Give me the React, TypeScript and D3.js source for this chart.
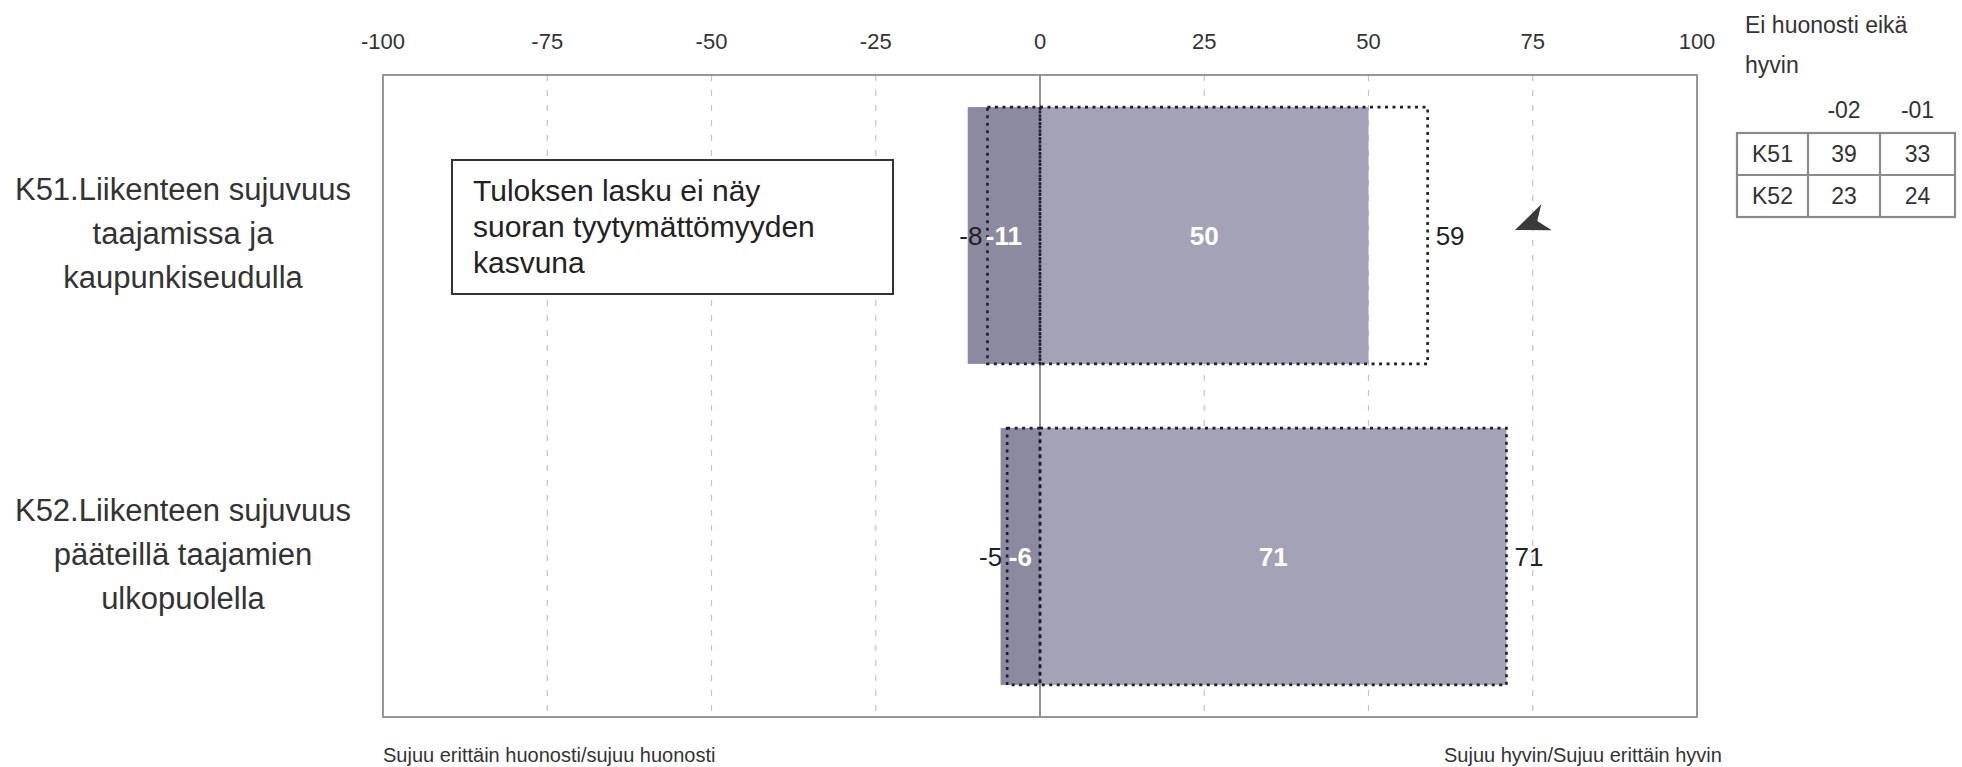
import React from "react";
import * as d3 from "d3";

// ---- data ----
const categories = ["K51", "K52"];
const categoryLabels = [
  ["K51.Liikenteen sujuvuus", "taajamissa ja", "kaupunkiseudulla"],
  ["K52.Liikenteen sujuvuus", "pääteillä taajamien", "ulkopuolella"],
];
const neg2002 = [-11, -6];
const pos2002 = [50, 71];
const neg2001 = [-8, -5];
const pos2001 = [59, 71];
const xTicks = [-100, -75, -50, -25, 0, 25, 50, 75, 100];
const annotationLines = ["Tuloksen lasku ei näy", "suoran tyytymättömyyden", "kasvuna"];
const neutralTitle = ["Ei huonosti eikä", "hyvin"];
const neutralYears = ["-02", "-01"];
const neutral2002 = [39, 23];
const neutral2001 = [33, 24];
const leftCaption = "Sujuu erittäin huonosti/sujuu huonosti";
const rightCaption = "Sujuu hyvin/Sujuu erittäin hyvin";

const W = 1962;
const H = 767;
const plot = { left: 383, right: 1697, top: 75, bottom: 717 };
const FONT = "'Liberation Sans', Arial, sans-serif";

export default function App() {
  const x = d3.scaleLinear().domain([-100, 100]).range([plot.left, plot.right]);
  const y = d3
    .scaleBand<string>()
    .domain(categories)
    .range([plot.top, plot.bottom])
    .paddingInner(0.2)
    .paddingOuter(0.1);
  const bw = y.bandwidth();

  const negFill = "#8b8aa0";
  const posFill = "#a3a2b7";
  const dotColor = "#1e1e30";

  // table geometry
  const colX = [1737, 1808, 1880, 1955];
  const rowY = [133, 175, 217];

  // arrow
  const arrowTip = [1515, 230];
  const arrowAngle = 158;

  return (
    <svg
      width={W}
      height={H}
      style={{ position: "absolute", left: 0, top: 0, display: "block", background: "#fff" }}
      fontFamily={FONT}
    >
      <rect x={0} y={0} width={W} height={H} fill="#fff" />

      {/* tick labels */}
      {xTicks.map((t) => (
        <text key={t} x={x(t)} y={49} textAnchor="middle" fontSize={22} fill="#333">
          {t}
        </text>
      ))}

      {/* gridlines */}
      {xTicks
        .filter((t) => t !== 0 && t !== -100 && t !== 100)
        .map((t) => (
          <line
            key={t}
            x1={x(t)}
            x2={x(t)}
            y1={plot.top}
            y2={plot.bottom}
            stroke="#c4c4c4"
            strokeWidth={1.2}
            strokeDasharray="6,9"
          />
        ))}
      {/* zero line */}
      <line x1={x(0)} x2={x(0)} y1={plot.top} y2={plot.bottom} stroke="#777" strokeWidth={1.6} />

      {/* plot frame */}
      <rect
        x={plot.left}
        y={plot.top}
        width={plot.right - plot.left}
        height={plot.bottom - plot.top}
        fill="none"
        stroke="#8c8c8c"
        strokeWidth={1.8}
      />

      {/* 2002 bars */}
      {categories.map((c, i) => (
        <g key={c}>
          <rect x={x(neg2002[i])} y={y(c)} width={x(0) - x(neg2002[i])} height={bw} fill={negFill} />
          <rect x={x(0)} y={y(c)} width={x(pos2002[i]) - x(0)} height={bw} fill={posFill} />
        </g>
      ))}

      {/* 2001 dotted boxes */}
      {categories.map((c, i) => (
        <g key={c} fill="none" stroke={dotColor} strokeWidth={2.6} strokeDasharray="3,4.5">
          <rect x={x(neg2001[i])} y={y(c)} width={x(0) - x(neg2001[i])} height={bw} />
          <rect x={x(0)} y={y(c)} width={x(pos2001[i]) - x(0)} height={bw} />
        </g>
      ))}

      {/* value labels */}
      {categories.map((c, i) => {
        const cy = (y(c) as number) + bw / 2 + 9;
        return (
          <g key={c} fontSize={26}>
            <text x={x(neg2001[i]) - 5} y={cy} textAnchor="end" fill="#222">
              {neg2001[i]}
            </text>
            <text x={(x(neg2002[i]) + x(0)) / 2} y={cy} textAnchor="middle" fill="#fff" fontWeight="bold">
              {neg2002[i]}
            </text>
            <text x={(x(pos2002[i]) + x(0)) / 2} y={cy} textAnchor="middle" fill="#fff" fontWeight="bold">
              {pos2002[i]}
            </text>
            <text x={x(pos2001[i]) + 8} y={cy} textAnchor="start" fill="#222">
              {pos2001[i]}
            </text>
          </g>
        );
      })}

      {/* category labels */}
      {categories.map((c, i) => {
        const cy = (y(c) as number) + bw / 2;
        const lines = categoryLabels[i];
        const lh = 44;
        return (
          <text key={c} textAnchor="middle" fontSize={31} fill="#333">
            {lines.map((l, k) => (
              <tspan key={k} x={183} y={cy + 8 + (k - (lines.length - 1) / 2) * lh}>
                {l}
              </tspan>
            ))}
          </text>
        );
      })}

      {/* annotation box */}
      <rect x={452} y={160} width={441} height={134} fill="#fff" stroke="#333" strokeWidth={2} />
      <text fontSize={30} fill="#222">
        {annotationLines.map((l, k) => (
          <tspan key={k} x={473} y={201 + k * 36}>
            {l}
          </tspan>
        ))}
      </text>

      {/* arrow */}
      <g transform={`translate(${arrowTip[0]},${arrowTip[1]}) rotate(${arrowAngle})`}>
        <path d="M0,0 L-34,-14 L-24,0 L-34,14 Z" fill="#3a3a3a" />
      </g>

      {/* neutral table */}
      <text fontSize={23} fill="#333">
        <tspan x={1745} y={33}>
          {neutralTitle[0]}
        </tspan>
        <tspan x={1745} y={73}>
          {neutralTitle[1]}
        </tspan>
      </text>
      {neutralYears.map((yr, j) => (
        <text key={yr} x={(colX[j + 1] + colX[j + 2]) / 2} y={118} textAnchor="middle" fontSize={23} fill="#333">
          {yr}
        </text>
      ))}
      <g fill="none" stroke="#8a8a8a" strokeWidth={2.2}>
        <rect x={colX[0]} y={rowY[0]} width={colX[3] - colX[0]} height={rowY[2] - rowY[0]} />
        {colX.slice(1, 3).map((cx) => (
          <line key={cx} x1={cx} x2={cx} y1={rowY[0]} y2={rowY[2]} />
        ))}
        <line x1={colX[0]} x2={colX[3]} y1={rowY[1]} y2={rowY[1]} />
      </g>
      {categories.map((c, i) => {
        const ty = rowY[i] + (rowY[i + 1] - rowY[i]) / 2 + 8;
        const vals = [c, neutral2002[i], neutral2001[i]];
        return (
          <g key={c} fontSize={23} fill="#333" textAnchor="middle">
            {vals.map((v, j) => (
              <text key={j} x={(colX[j] + colX[j + 1]) / 2} y={ty}>
                {v}
              </text>
            ))}
          </g>
        );
      })}

      {/* bottom captions */}
      <text x={383} y={762} fontSize={20} fill="#333">
        {leftCaption}
      </text>
      <text x={1444} y={762} fontSize={20} fill="#333">
        {rightCaption}
      </text>
    </svg>
  );
}
